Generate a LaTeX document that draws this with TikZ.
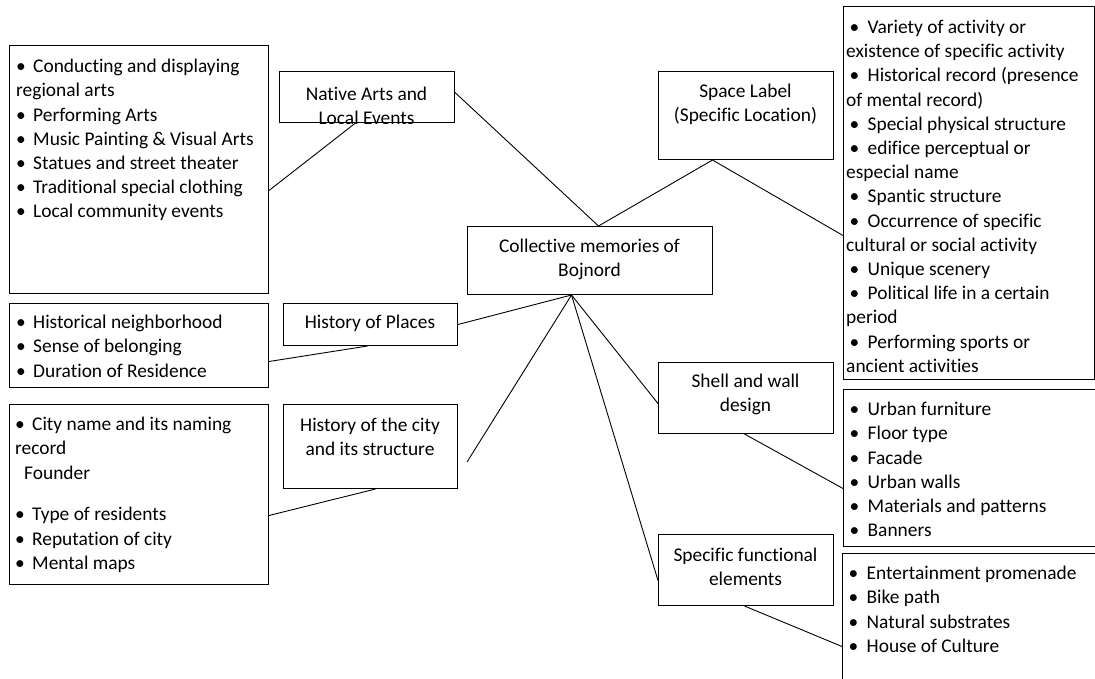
\documentclass[tikz,border=0pt]{standalone}
\usepackage{fontspec}
\setmainfont{Carlito}[Ligatures=NoCommon]
\usepackage{tikz}
\newcommand{\bl}{\makebox[17pt][l]{•}}
\newcommand{\sbl}{\hspace*{3.5pt}\makebox[18pt][l]{•}}
\tikzset{
	box/.style={draw, line width=1pt, rectangle, inner sep=0pt, anchor=north west},
	txt/.style={inner sep=0pt, align=center, font=\fontsize{19.4}{24.2}\selectfont},
	lst/.style={inner sep=0pt, align=left, anchor=north west, font=\fontsize{19.4}{24.2}\selectfont},
	link/.style={line width=0.9pt}
}

\begin{document}
\begin{tikzpicture}[x=1pt,y=-1pt]
		\clip (0,0) rectangle (1095,678);
		
		\node[box, minimum width=259pt, minimum height=248pt] (artsbox) at (9,45) {};
		\node[lst] (artstxt) at (16,59) {\bl Conducting and displaying\\regional arts\\\bl Performing Arts\\\bl Music Painting \& Visual Arts\\\bl Statues and street theater\\\bl Traditional special clothing\\\bl Local community events};
		
		\node[box, minimum width=175pt, minimum height=51pt] (native) at (279,71) {};
		\begin{scope}
			\clip (native.north west) rectangle (native.south east);
			\node[txt] (nativetxt) at (366.5,106) {Native Arts and\\Local Events};
		\end{scope}
		
		\node[box, minimum width=245pt, minimum height=68pt] (coll) at (467,226) {};
		\node[txt] (colltxt) at (589.5,259.5) {Collective memories of\\Bojnord};
		
		\node[box, minimum width=175pt, minimum height=88pt] (spacelbl) at (658,71) {};
		\node[txt] (spacetxt) at (745.5,104) {Space Label\\(Specific Location)};
		
		\node[box, minimum width=251pt, minimum height=373pt] (spacelist) at (843,6) {};
		\node[lst] (spacelisttxt) at (846,20) {\sbl Variety of activity or\\existence of specific activity\\\sbl Historical record (presence\\of mental record)\\\sbl Special physical structure\\\sbl edifice perceptual or\\especial name\\\sbl Spantic structure\\\sbl Occurrence of specific\\cultural or social activity\\\sbl Unique scenery\\\sbl Political life in a certain\\period\\\sbl Performing sports or\\ancient activities};
		
		\node[box, minimum width=259pt, minimum height=84pt] (placeslist) at (9,303) {};
		\node[lst] (placeslisttxt) at (16,315) {\bl Historical neighborhood\\\bl Sense of belonging\\\bl Duration of Residence};
		\node[box, minimum width=174pt, minimum height=42pt] (placesbox) at (283,303) {};
		\node[txt] (placestxt) at (370,323) {History of Places};
		
		\node[box, minimum width=259pt, minimum height=180pt] (citylist) at (9,404) {};
		\node[lst] (citylisttxt) at (15,417) {\bl City name and its naming\\record\\\hspace*{9pt}Founder\\[17.6pt]\bl Type of residents\\\bl Reputation of city\\\bl Mental maps};
		\node[box, minimum width=174pt, minimum height=84pt] (citybox) at (283,404) {};
		\node[txt] (citytxt) at (370,437) {History of the city\\and its structure};
		
		\node[box, minimum width=175pt, minimum height=71pt] (shellbox) at (658,362) {};
		\node[txt] (shelltxt) at (745.5,394.5) {Shell and wall\\design};
		\node[box, minimum width=260pt, minimum height=157pt] (shelllist) at (843,389) {};
		\node[lst] (shelllisttxt) at (846,402) {\sbl Urban furniture\\\sbl Floor type\\\sbl Facade\\\sbl Urban walls\\\sbl Materials and patterns\\\sbl Banners};
		
		\node[box, minimum width=175pt, minimum height=71pt] (funcbox) at (658,534) {};
		\node[txt] (functxt) at (745.5,566.5) {Specific functional\\elements};
		\node[box, minimum width=260pt, minimum height=150pt] (funclist) at (842,553) {};
		\node[lst] (funclisttxt) at (845,566) {\sbl Entertainment promenade\\\sbl Bike path\\\sbl Natural substrates\\\sbl House of Culture};
		
		\coordinate (cityend) at (467,462);
		
		\draw[link] ([yshift=-21pt]artsbox.east) -- ([xshift=-11.5pt]native.south);
		\draw[link] ([yshift=4.5pt]native.east) -- ([xshift=8.5pt]coll.north);
		\draw[link] ([xshift=8.5pt]coll.north) -- ([xshift=-33.5pt]spacelbl.south);
		\draw[link] ([xshift=-33.5pt]spacelbl.south) -- ([yshift=-42.5pt]spacelist.west);
		\draw[link] ([xshift=-18.5pt]coll.south) -- (placesbox.east);
		\draw[link] ([xshift=-3pt]placesbox.south) -- ([yshift=-16pt]placeslist.east);
		\draw[link] ([xshift=-18.5pt]coll.south) -- (cityend);
		\draw[link] ([xshift=5pt]citybox.south) -- ([yshift=-21pt]citylist.east);
		\draw[link] ([xshift=-18.5pt]coll.south) -- ([yshift=-5.5pt]shellbox.west);
		\draw[link] ([xshift=-18.5pt]coll.south) -- ([yshift=-10.5pt]funcbox.west);
		\draw[link] ([xshift=-1.5pt]shellbox.south) -- ([yshift=-20.5pt]shelllist.west);
		\draw[link] ([xshift=-1.5pt]funcbox.south) -- ([yshift=-18pt]funclist.west);
	\end{tikzpicture}
\end{document}
